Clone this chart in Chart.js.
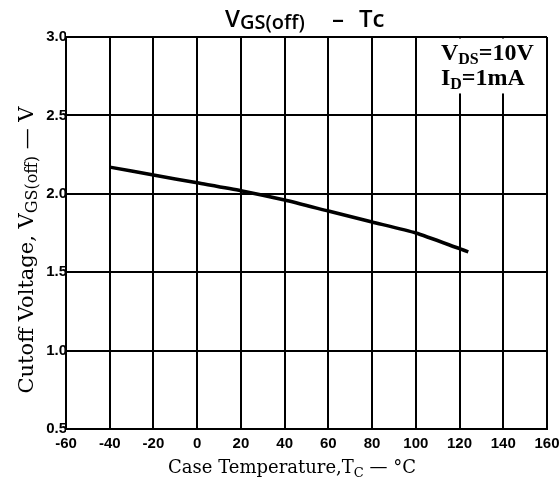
<!DOCTYPE html>
<html><head><meta charset="utf-8">
<script src="https://cdn.jsdelivr.net/npm/chart.js@4.4.0/dist/chart.umd.min.js"></script>
<style>html,body{margin:0;padding:0;background:#fff;}#wrap{width:559px;height:484px;position:relative;}</style>
</head><body><div id="wrap"><canvas id="c" width="559" height="484"></canvas></div>
<script>
const temps = [-40, -20, 0, 20, 40, 60, 80, 100, 120, 124];
const vgsOff = [2.17, 2.12, 2.07, 2.02, 1.96, 1.89, 1.82, 1.75, 1.65, 1.63];
const xTicks = [-60, -40, -20, 0, 20, 40, 60, 80, 100, 120, 140, 160];
const yTicks = [0.5, 1.0, 1.5, 2.0, 2.5, 3.0];
const titleLeft = [["V", "V"], ["GS(off)", "sub"]];
const titleDash = [["–", "V"]];
const titleRight = [["Tc", "V"]];
const xTitleParts = [["Case Temperature,T", "n"], ["C", "s"], [" — °C", "n"]];
const yTitleParts = [["Cutoff Voltage, V", "ny"], ["GS(off)", "sy"], [" — V", "ny"]];
const cond1 = [["V", "b"], ["DS", "bs"], ["=10V", "b"]];
const cond2 = [["I", "b"], ["D", "bs"], ["=1mA", "b"]];

const FONTS = {
  V: {f: "600 24px 'Open Sans', 'Noto Sans', sans-serif", dy: 0},
  sub: {f: "600 20px 'Open Sans', 'Noto Sans', sans-serif", dy: 2},
  n: {f: "18px 'DejaVu Serif', serif", dy: 0},
  s: {f: "13px 'DejaVu Serif', serif", dy: 4},
  ny: {f: "21px 'DejaVu Serif', serif", dy: 0},
  sy: {f: "16px 'DejaVu Serif', serif", dy: 4},
  b: {f: "bold 24px 'Liberation Serif', 'DejaVu Serif', serif", dy: 0},
  bs: {f: "bold 16px 'Liberation Serif', 'DejaVu Serif', serif", dy: 4}
};
function richWidth(ctx, parts) {
  let w = 0;
  for (const [t, k] of parts) { ctx.font = FONTS[k].f; w += ctx.measureText(t).width; }
  return w;
}
function drawRich(ctx, parts, x, y, align) {
  const w = richWidth(ctx, parts);
  let cx = align === 'center' ? x - w / 2 : x;
  ctx.textAlign = 'left'; ctx.textBaseline = 'alphabetic'; ctx.fillStyle = '#000';
  for (const [t, k] of parts) {
    ctx.font = FONTS[k].f;
    ctx.fillText(t, cx, y + FONTS[k].dy);
    cx += ctx.measureText(t).width;
  }
}

const textPlugin = {
  id: 'texts',
  afterDatasetsDraw(chart) {
    const ctx = chart.ctx, xs = chart.scales.x, ys = chart.scales.y;
    ctx.save();
    // white box behind the test conditions
    const bx0 = xs.getPixelForValue(100) + 1.5, bx1 = xs.getPixelForValue(160) - 1.5;
    const by0 = ys.getPixelForValue(3.0) + 1.5, by1 = ys.getPixelForValue(2.64);
    ctx.fillStyle = '#fff';
    ctx.fillRect(bx0, by0, bx1 - bx0, by1 - by0);
    drawRich(ctx, cond1, xs.getPixelForValue(111.5), ys.getPixelForValue(2.855));
    drawRich(ctx, cond2, xs.getPixelForValue(111.5), ys.getPixelForValue(2.695));
    // title
    drawRich(ctx, titleLeft, 225, 27);
    drawRich(ctx, titleDash, 332, 27);
    drawRich(ctx, titleRight, 359, 27);
    // x title
    drawRich(ctx, xTitleParts, 292, 473, 'center');
    // y title
    ctx.translate(33, 250);
    ctx.rotate(-Math.PI / 2);
    drawRich(ctx, yTitleParts, 0, 0, 'center');
    ctx.restore();
  }
};

new Chart(document.getElementById('c'), {
  type: 'scatter',
  data: {
    datasets: [{
      data: temps.map((t, i) => ({x: t, y: vgsOff[i]})),
      showLine: true,
      borderColor: '#000',
      borderWidth: 3.5,
      pointRadius: 0,
      tension: 0.2,
      fill: false
    }]
  },
  options: {
    responsive: false,
    animation: false,
    devicePixelRatio: 1,
    layout: {padding: {left: 0, top: 37, right: 12, bottom: 0}},
    plugins: {legend: {display: false}, tooltip: {enabled: false}, title: {display: false}},
    scales: {
      x: {
        type: 'linear', min: -60, max: 160,
        afterBuildTicks(s) { s.ticks = xTicks.map(v => ({value: v})); },
        afterFit(s) { s.height = 55; s.paddingLeft = 0; s.paddingRight = 0; },
        grid: {color: '#000', lineWidth: 2, drawTicks: false},
        border: {color: '#000', width: 2},
        ticks: {color: '#000', padding: 6, maxRotation: 0, autoSkip: false,
          font: {family: "'Liberation Sans', Arial, sans-serif", size: 15, weight: 'bold'},
          callback: v => String(v)}
      },
      y: {
        type: 'linear', min: 0.5, max: 3.0,
        afterBuildTicks(s) { s.ticks = yTicks.map(v => ({value: v})); },
        afterFit(s) { s.width = 66; s.paddingTop = 0; s.paddingBottom = 0; },
        grid: {color: '#000', lineWidth: 2, drawTicks: false},
        border: {color: '#000', width: 2},
        ticks: {color: '#000', padding: -1, autoSkip: false,
          font: {family: "'Liberation Sans', Arial, sans-serif", size: 15, weight: 'bold'},
          callback: v => Number(v).toFixed(1)}
      }
    }
  },
  plugins: [textPlugin]
});
</script></body></html>
